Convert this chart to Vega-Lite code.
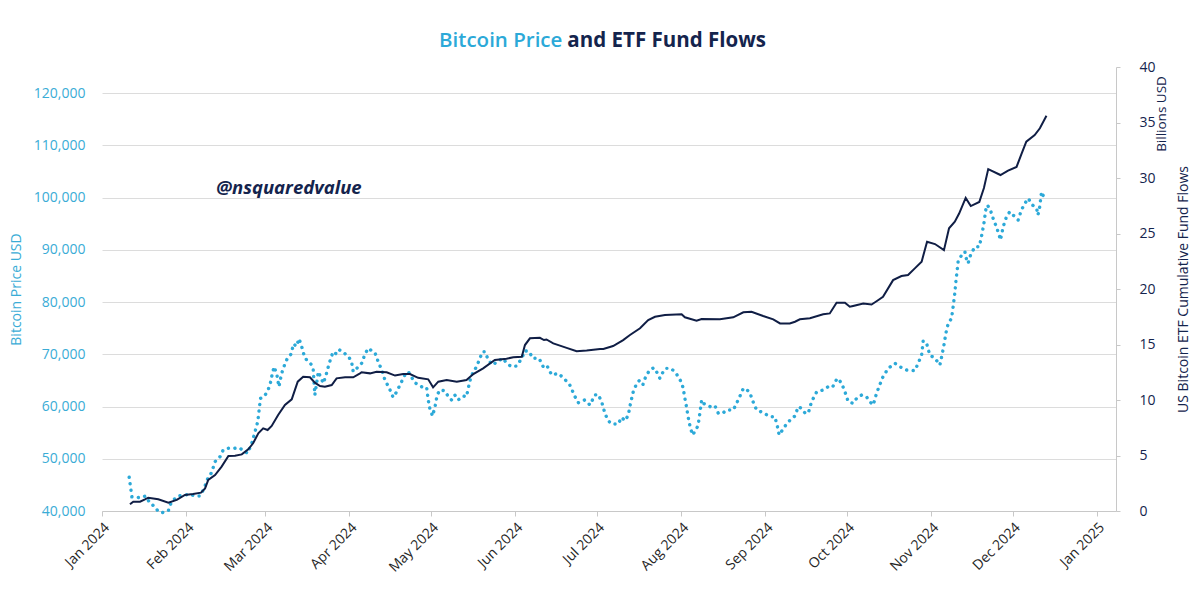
{
  "$schema": "https://vega.github.io/schema/vega-lite/v6.json",
  "width": 1014,
  "height": 444,
  "autosize": {"type": "none"},
  "padding": {"left": 102, "top": 67, "right": 84, "bottom": 104},
  "background": "white",
  "config": {"view": {"stroke": null}, "font": "Open Sans"},
  "datasets": {
    "price": [
      {"date": "2024-01-11T00:00", "price": 46450}, {"date": "2024-01-12T00:00", "price": 42740}, {"date": "2024-01-15T00:00", "price": 42550},
      {"date": "2024-01-17T00:00", "price": 42870}, {"date": "2024-01-18T17:00", "price": 41470}, {"date": "2024-01-20T12:00", "price": 40820},
      {"date": "2024-01-21T17:00", "price": 39870}, {"date": "2024-01-23T10:00", "price": 39700}, {"date": "2024-01-25T10:00", "price": 40060},
      {"date": "2024-01-26T00:00", "price": 41150}, {"date": "2024-01-27T05:00", "price": 42100}, {"date": "2024-01-29T00:00", "price": 42870},
      {"date": "2024-01-31T12:00", "price": 43060}, {"date": "2024-02-02T10:00", "price": 43190}, {"date": "2024-02-04T05:00", "price": 42870},
      {"date": "2024-02-06T00:00", "price": 42870}, {"date": "2024-02-07T14:00", "price": 44340}, {"date": "2024-02-08T22:00", "price": 46260},
      {"date": "2024-02-10T07:00", "price": 47330}, {"date": "2024-02-11T14:00", "price": 49440}, {"date": "2024-02-13T10:00", "price": 50400},
      {"date": "2024-02-14T14:00", "price": 51680}, {"date": "2024-02-16T12:00", "price": 52000}, {"date": "2024-02-18T17:00", "price": 52000},
      {"date": "2024-02-20T10:00", "price": 52120}, {"date": "2024-02-23T14:00", "price": 51040}, {"date": "2024-02-25T07:00", "price": 53270},
      {"date": "2024-02-26T07:00", "price": 55180}, {"date": "2024-02-27T07:00", "price": 57100}, {"date": "2024-02-28T07:00", "price": 61570},
      {"date": "2024-02-29T14:00", "price": 61880}, {"date": "2024-03-01T19:00", "price": 62830}, {"date": "2024-03-02T19:00", "price": 64120},
      {"date": "2024-03-03T10:00", "price": 65710}, {"date": "2024-03-04T07:00", "price": 67620}, {"date": "2024-03-05T07:00", "price": 66220},
      {"date": "2024-03-06T02:00", "price": 63790}, {"date": "2024-03-07T02:00", "price": 66350}, {"date": "2024-03-07T17:00", "price": 67310},
      {"date": "2024-03-08T14:00", "price": 68580}, {"date": "2024-03-09T12:00", "price": 69500}, {"date": "2024-03-10T12:00", "price": 70000},
      {"date": "2024-03-11T12:00", "price": 72000}, {"date": "2024-03-12T12:00", "price": 71500}, {"date": "2024-03-13T12:00", "price": 73000},
      {"date": "2024-03-14T12:00", "price": 71400}, {"date": "2024-03-15T12:00", "price": 69500}, {"date": "2024-03-16T07:00", "price": 68900},
      {"date": "2024-03-18T02:00", "price": 68000}, {"date": "2024-03-18T17:00", "price": 67000}, {"date": "2024-03-19T07:00", "price": 62200},
      {"date": "2024-03-20T14:00", "price": 66660}, {"date": "2024-03-22T10:00", "price": 64440}, {"date": "2024-03-23T10:00", "price": 66030},
      {"date": "2024-03-24T14:00", "price": 68270}, {"date": "2024-03-26T00:00", "price": 70500}, {"date": "2024-03-27T10:00", "price": 70000},
      {"date": "2024-03-28T12:00", "price": 70810}, {"date": "2024-03-31T14:00", "price": 69670}, {"date": "2024-04-01T19:00", "price": 68580},
      {"date": "2024-04-02T10:00", "price": 66660}, {"date": "2024-04-03T17:00", "price": 67310}, {"date": "2024-04-05T12:00", "price": 68270},
      {"date": "2024-04-06T17:00", "price": 69990}, {"date": "2024-04-07T22:00", "price": 71140}, {"date": "2024-04-09T05:00", "price": 70680},
      {"date": "2024-04-10T10:00", "price": 70300}, {"date": "2024-04-11T14:00", "price": 68580}, {"date": "2024-04-12T22:00", "price": 66990},
      {"date": "2024-04-14T02:00", "price": 65070}, {"date": "2024-04-15T17:00", "price": 63480}, {"date": "2024-04-17T02:00", "price": 61760},
      {"date": "2024-04-18T10:00", "price": 62830}, {"date": "2024-04-19T14:00", "price": 64120}, {"date": "2024-04-21T10:00", "price": 66030},
      {"date": "2024-04-22T17:00", "price": 66660}, {"date": "2024-04-23T22:00", "price": 65590}, {"date": "2024-04-25T02:00", "price": 64560},
      {"date": "2024-04-27T14:00", "price": 63790}, {"date": "2024-04-29T10:00", "price": 63680}, {"date": "2024-04-30T00:00", "price": 61250},
      {"date": "2024-04-30T14:00", "price": 59660}, {"date": "2024-05-01T14:00", "price": 58180}, {"date": "2024-05-02T12:00", "price": 59960},
      {"date": "2024-05-03T07:00", "price": 62200}, {"date": "2024-05-04T07:00", "price": 63160}, {"date": "2024-05-06T02:00", "price": 63030},
      {"date": "2024-05-07T10:00", "price": 61880}, {"date": "2024-05-08T14:00", "price": 61250}, {"date": "2024-05-09T19:00", "price": 62200},
      {"date": "2024-05-11T00:00", "price": 61250}, {"date": "2024-05-12T22:00", "price": 62010}, {"date": "2024-05-14T02:00", "price": 61880},
      {"date": "2024-05-14T17:00", "price": 63480}, {"date": "2024-05-15T14:00", "price": 65400}, {"date": "2024-05-16T14:00", "price": 66660},
      {"date": "2024-05-17T19:00", "price": 67620}, {"date": "2024-05-19T00:00", "price": 69230}, {"date": "2024-05-20T00:00", "price": 70490},
      {"date": "2024-05-20T22:00", "price": 70490}, {"date": "2024-05-22T02:00", "price": 68900}, {"date": "2024-05-23T17:00", "price": 67940},
      {"date": "2024-05-25T19:00", "price": 68770}, {"date": "2024-05-27T14:00", "price": 69230}, {"date": "2024-05-28T19:00", "price": 68270},
      {"date": "2024-05-30T17:00", "price": 67620}, {"date": "2024-06-01T12:00", "price": 67750}, {"date": "2024-06-03T10:00", "price": 69230},
      {"date": "2024-06-04T14:00", "price": 70680}, {"date": "2024-06-06T05:00", "price": 70490}, {"date": "2024-06-07T10:00", "price": 69230},
      {"date": "2024-06-09T19:00", "price": 69230}, {"date": "2024-06-11T07:00", "price": 67620}, {"date": "2024-06-12T14:00", "price": 67940},
      {"date": "2024-06-14T10:00", "price": 66030}, {"date": "2024-06-16T19:00", "price": 66350}, {"date": "2024-06-18T22:00", "price": 65400},
      {"date": "2024-06-21T02:00", "price": 64120}, {"date": "2024-06-23T00:00", "price": 61880}, {"date": "2024-06-24T05:00", "price": 60730},
      {"date": "2024-06-26T14:00", "price": 61250}, {"date": "2024-06-28T12:00", "price": 60290}, {"date": "2024-06-30T07:00", "price": 62200},
      {"date": "2024-07-01T12:00", "price": 62330}, {"date": "2024-07-02T19:00", "price": 60920}, {"date": "2024-07-04T00:00", "price": 58700},
      {"date": "2024-07-05T05:00", "price": 57280}, {"date": "2024-07-06T12:00", "price": 56650}, {"date": "2024-07-08T22:00", "price": 56650},
      {"date": "2024-07-10T02:00", "price": 57930}, {"date": "2024-07-11T10:00", "price": 57280}, {"date": "2024-07-12T14:00", "price": 58370},
      {"date": "2024-07-13T10:00", "price": 60610}, {"date": "2024-07-14T10:00", "price": 62830}, {"date": "2024-07-15T17:00", "price": 64440},
      {"date": "2024-07-16T14:00", "price": 64940}, {"date": "2024-07-17T22:00", "price": 64120}, {"date": "2024-07-19T02:00", "price": 65840},
      {"date": "2024-07-20T12:00", "price": 66990}, {"date": "2024-07-22T00:00", "price": 67430}, {"date": "2024-07-23T00:00", "price": 66660},
      {"date": "2024-07-24T05:00", "price": 65400}, {"date": "2024-07-25T10:00", "price": 66660}, {"date": "2024-07-26T10:00", "price": 67310},
      {"date": "2024-07-28T05:00", "price": 67310}, {"date": "2024-07-29T17:00", "price": 66660}, {"date": "2024-07-31T00:00", "price": 65710},
      {"date": "2024-08-01T05:00", "price": 64560}, {"date": "2024-08-01T19:00", "price": 63480}, {"date": "2024-08-02T10:00", "price": 61570},
      {"date": "2024-08-03T00:00", "price": 59960}, {"date": "2024-08-03T14:00", "price": 58050}, {"date": "2024-08-04T07:00", "price": 56270},
      {"date": "2024-08-05T05:00", "price": 54550}, {"date": "2024-08-06T12:00", "price": 55500}, {"date": "2024-08-07T07:00", "price": 56460},
      {"date": "2024-08-07T22:00", "price": 58700}, {"date": "2024-08-08T14:00", "price": 61250}, {"date": "2024-08-09T05:00", "price": 60610},
      {"date": "2024-08-10T10:00", "price": 60290}, {"date": "2024-08-12T05:00", "price": 59850}, {"date": "2024-08-13T12:00", "price": 60100},
      {"date": "2024-08-14T17:00", "price": 58700}, {"date": "2024-08-16T07:00", "price": 58700}, {"date": "2024-08-17T17:00", "price": 59330},
      {"date": "2024-08-20T05:00", "price": 59330}, {"date": "2024-08-21T10:00", "price": 60610}, {"date": "2024-08-22T14:00", "price": 61880},
      {"date": "2024-08-23T22:00", "price": 63480}, {"date": "2024-08-25T02:00", "price": 63290}, {"date": "2024-08-26T07:00", "price": 62640},
      {"date": "2024-08-27T12:00", "price": 60920}, {"date": "2024-08-28T19:00", "price": 59330}, {"date": "2024-08-31T05:00", "price": 58820},
      {"date": "2024-09-02T17:00", "price": 58050}, {"date": "2024-09-04T12:00", "price": 58050}, {"date": "2024-09-05T10:00", "price": 56270},
      {"date": "2024-09-06T02:00", "price": 54550}, {"date": "2024-09-07T07:00", "price": 55500}, {"date": "2024-09-08T19:00", "price": 56650},
      {"date": "2024-09-10T17:00", "price": 57740}, {"date": "2024-09-11T22:00", "price": 58180}, {"date": "2024-09-13T02:00", "price": 59960},
      {"date": "2024-09-14T07:00", "price": 59660}, {"date": "2024-09-15T12:00", "price": 58820}, {"date": "2024-09-16T19:00", "price": 58700},
      {"date": "2024-09-18T00:00", "price": 60920}, {"date": "2024-09-19T22:00", "price": 62830}, {"date": "2024-09-22T07:00", "price": 63160},
      {"date": "2024-09-24T02:00", "price": 63790}, {"date": "2024-09-25T17:00", "price": 63680}, {"date": "2024-09-27T10:00", "price": 65400},
      {"date": "2024-09-29T00:00", "price": 64560}, {"date": "2024-09-30T07:00", "price": 62830}, {"date": "2024-10-01T12:00", "price": 60920},
      {"date": "2024-10-03T07:00", "price": 60610}, {"date": "2024-10-04T14:00", "price": 61570}, {"date": "2024-10-06T10:00", "price": 62200},
      {"date": "2024-10-08T05:00", "price": 61880}, {"date": "2024-10-09T10:00", "price": 60920}, {"date": "2024-10-10T17:00", "price": 60290},
      {"date": "2024-10-11T22:00", "price": 62530}, {"date": "2024-10-13T02:00", "price": 64120}, {"date": "2024-10-14T07:00", "price": 65710},
      {"date": "2024-10-16T05:00", "price": 67310}, {"date": "2024-10-18T17:00", "price": 68270}, {"date": "2024-10-20T12:00", "price": 67620},
      {"date": "2024-10-23T00:00", "price": 66990}, {"date": "2024-10-26T00:00", "price": 66860}, {"date": "2024-10-27T05:00", "price": 68270},
      {"date": "2024-10-28T12:00", "price": 69860}, {"date": "2024-10-29T02:00", "price": 72600}, {"date": "2024-10-30T12:00", "price": 71770},
      {"date": "2024-10-31T12:00", "price": 69860}, {"date": "2024-11-02T10:00", "price": 69230}, {"date": "2024-11-04T05:00", "price": 67940},
      {"date": "2024-11-05T00:00", "price": 69860}, {"date": "2024-11-05T17:00", "price": 71770}, {"date": "2024-11-06T10:00", "price": 74010},
      {"date": "2024-11-07T07:00", "price": 75920}, {"date": "2024-11-08T12:00", "price": 76880}, {"date": "2024-11-09T02:00", "price": 79100},
      {"date": "2024-11-09T17:00", "price": 81670}, {"date": "2024-11-10T02:00", "price": 83890}, {"date": "2024-11-10T14:00", "price": 86130},
      {"date": "2024-11-10T22:00", "price": 87720}, {"date": "2024-11-12T05:00", "price": 89000}, {"date": "2024-11-13T10:00", "price": 89630},
      {"date": "2024-11-14T00:00", "price": 88180}, {"date": "2024-11-14T14:00", "price": 87410}, {"date": "2024-11-15T12:00", "price": 89000},
      {"date": "2024-11-17T02:00", "price": 90590}, {"date": "2024-11-18T17:00", "price": 90590}, {"date": "2024-11-19T12:00", "price": 92500},
      {"date": "2024-11-20T10:00", "price": 95070}, {"date": "2024-11-21T02:00", "price": 97620}, {"date": "2024-11-21T17:00", "price": 98570},
      {"date": "2024-11-22T19:00", "price": 97620}, {"date": "2024-11-23T19:00", "price": 96020}, {"date": "2024-11-25T00:00", "price": 94420},
      {"date": "2024-11-26T00:00", "price": 92830}, {"date": "2024-11-26T12:00", "price": 91870}, {"date": "2024-11-27T12:00", "price": 94420},
      {"date": "2024-11-28T17:00", "price": 96330}, {"date": "2024-11-29T22:00", "price": 97290}, {"date": "2024-12-01T19:00", "price": 96330},
      {"date": "2024-12-03T00:00", "price": 95700}, {"date": "2024-12-04T05:00", "price": 97620}, {"date": "2024-12-05T12:00", "price": 98900},
      {"date": "2024-12-06T17:00", "price": 99850}, {"date": "2024-12-08T07:00", "price": 98570}, {"date": "2024-12-09T19:00", "price": 97940},
      {"date": "2024-12-10T07:00", "price": 96650}, {"date": "2024-12-11T00:00", "price": 98380}, {"date": "2024-12-11T14:00", "price": 101110},
      {"date": "2024-12-12T10:00", "price": 100160}
    ],
    "etf": [
      {"date": "2024-01-11T07:00", "flows": 0.6}, {"date": "2024-01-12T12:00", "flows": 0.84}, {"date": "2024-01-15T00:00", "flows": 0.84},
      {"date": "2024-01-16T19:00", "flows": 1.05}, {"date": "2024-01-18T00:00", "flows": 1.2}, {"date": "2024-01-21T17:00", "flows": 1.05},
      {"date": "2024-01-25T10:00", "flows": 0.75}, {"date": "2024-01-28T12:00", "flows": 1.0}, {"date": "2024-01-31T12:00", "flows": 1.44},
      {"date": "2024-02-03T12:00", "flows": 1.53}, {"date": "2024-02-06T10:00", "flows": 1.65}, {"date": "2024-02-07T22:00", "flows": 2.04},
      {"date": "2024-02-09T02:00", "flows": 2.8}, {"date": "2024-02-11T14:00", "flows": 3.24}, {"date": "2024-02-14T00:00", "flows": 4.0},
      {"date": "2024-02-16T12:00", "flows": 4.95}, {"date": "2024-02-18T22:00", "flows": 4.98}, {"date": "2024-02-21T10:00", "flows": 5.1},
      {"date": "2024-02-23T19:00", "flows": 5.56}, {"date": "2024-02-25T14:00", "flows": 6.1}, {"date": "2024-02-27T12:00", "flows": 7.0},
      {"date": "2024-02-29T07:00", "flows": 7.45}, {"date": "2024-03-01T22:00", "flows": 7.3}, {"date": "2024-03-03T10:00", "flows": 7.66},
      {"date": "2024-03-05T19:00", "flows": 8.65}, {"date": "2024-03-08T07:00", "flows": 9.55}, {"date": "2024-03-10T19:00", "flows": 10.06},
      {"date": "2024-03-13T00:00", "flows": 11.65}, {"date": "2024-03-15T00:00", "flows": 12.1}, {"date": "2024-03-17T12:00", "flows": 12.05},
      {"date": "2024-03-19T07:00", "flows": 11.56}, {"date": "2024-03-21T05:00", "flows": 11.26}, {"date": "2024-03-23T00:00", "flows": 11.2},
      {"date": "2024-03-25T12:00", "flows": 11.35}, {"date": "2024-03-27T07:00", "flows": 11.95}, {"date": "2024-03-30T10:00", "flows": 12.05},
      {"date": "2024-04-02T10:00", "flows": 12.05}, {"date": "2024-04-04T22:00", "flows": 12.4}, {"date": "2024-04-05T12:00", "flows": 12.5},
      {"date": "2024-04-08T14:00", "flows": 12.4}, {"date": "2024-04-11T00:00", "flows": 12.55}, {"date": "2024-04-14T17:00", "flows": 12.5},
      {"date": "2024-04-17T19:00", "flows": 12.2}, {"date": "2024-04-20T19:00", "flows": 12.34}, {"date": "2024-04-23T07:00", "flows": 12.34},
      {"date": "2024-04-26T07:00", "flows": 12.0}, {"date": "2024-04-30T00:00", "flows": 11.86}, {"date": "2024-05-01T19:00", "flows": 11.14},
      {"date": "2024-05-03T17:00", "flows": 11.65}, {"date": "2024-05-06T19:00", "flows": 11.8}, {"date": "2024-05-10T12:00", "flows": 11.65},
      {"date": "2024-05-14T02:00", "flows": 11.8}, {"date": "2024-05-16T14:00", "flows": 12.34}, {"date": "2024-05-20T05:00", "flows": 12.85},
      {"date": "2024-05-24T12:00", "flows": 13.6}, {"date": "2024-05-28T19:00", "flows": 13.72}, {"date": "2024-05-31T07:00", "flows": 13.85},
      {"date": "2024-06-03T10:00", "flows": 13.9}, {"date": "2024-06-04T14:00", "flows": 14.95}, {"date": "2024-06-06T10:00", "flows": 15.56},
      {"date": "2024-06-10T02:00", "flows": 15.6}, {"date": "2024-06-11T14:00", "flows": 15.4}, {"date": "2024-06-12T12:00", "flows": 15.45},
      {"date": "2024-06-15T00:00", "flows": 15.1}, {"date": "2024-06-19T22:00", "flows": 14.7}, {"date": "2024-06-23T14:00", "flows": 14.4},
      {"date": "2024-06-27T07:00", "flows": 14.45}, {"date": "2024-07-02T05:00", "flows": 14.6}, {"date": "2024-07-03T10:00", "flows": 14.6},
      {"date": "2024-07-07T00:00", "flows": 14.86}, {"date": "2024-07-10T17:00", "flows": 15.4}, {"date": "2024-07-13T05:00", "flows": 15.86},
      {"date": "2024-07-16T22:00", "flows": 16.46}, {"date": "2024-07-19T22:00", "flows": 17.2}, {"date": "2024-07-22T10:00", "flows": 17.5},
      {"date": "2024-07-26T02:00", "flows": 17.66}, {"date": "2024-08-01T05:00", "flows": 17.72}, {"date": "2024-08-02T10:00", "flows": 17.45},
      {"date": "2024-08-06T17:00", "flows": 17.14}, {"date": "2024-08-08T14:00", "flows": 17.3}, {"date": "2024-08-15T07:00", "flows": 17.27},
      {"date": "2024-08-20T05:00", "flows": 17.45}, {"date": "2024-08-23T22:00", "flows": 17.9}, {"date": "2024-08-26T22:00", "flows": 17.95},
      {"date": "2024-08-31T05:00", "flows": 17.57}, {"date": "2024-09-03T22:00", "flows": 17.27}, {"date": "2024-09-06T10:00", "flows": 16.9},
      {"date": "2024-09-10T00:00", "flows": 16.9}, {"date": "2024-09-11T22:00", "flows": 17.05}, {"date": "2024-09-13T17:00", "flows": 17.27},
      {"date": "2024-09-17T10:00", "flows": 17.36}, {"date": "2024-09-22T07:00", "flows": 17.72}, {"date": "2024-09-24T17:00", "flows": 17.8},
      {"date": "2024-09-27T05:00", "flows": 18.77}, {"date": "2024-09-30T07:00", "flows": 18.77}, {"date": "2024-10-02T02:00", "flows": 18.4},
      {"date": "2024-10-03T07:00", "flows": 18.47}, {"date": "2024-10-07T00:00", "flows": 18.7}, {"date": "2024-10-10T02:00", "flows": 18.6},
      {"date": "2024-10-11T22:00", "flows": 18.9}, {"date": "2024-10-14T07:00", "flows": 19.3}, {"date": "2024-10-18T00:00", "flows": 20.8},
      {"date": "2024-10-21T02:00", "flows": 21.17}, {"date": "2024-10-23T12:00", "flows": 21.26}, {"date": "2024-10-26T00:00", "flows": 21.86},
      {"date": "2024-10-28T12:00", "flows": 22.46}, {"date": "2024-10-30T12:00", "flows": 24.26}, {"date": "2024-11-02T10:00", "flows": 24.05},
      {"date": "2024-11-05T17:00", "flows": 23.5}, {"date": "2024-11-07T14:00", "flows": 25.47}, {"date": "2024-11-09T17:00", "flows": 26.06},
      {"date": "2024-11-11T07:00", "flows": 26.8}, {"date": "2024-11-13T17:00", "flows": 28.2}, {"date": "2024-11-15T14:00", "flows": 27.47},
      {"date": "2024-11-18T17:00", "flows": 27.84}, {"date": "2024-11-20T10:00", "flows": 29.1}, {"date": "2024-11-22T00:00", "flows": 30.8},
      {"date": "2024-11-26T12:00", "flows": 30.27}, {"date": "2024-11-29T07:00", "flows": 30.66}, {"date": "2024-12-02T10:00", "flows": 31.0},
      {"date": "2024-12-04T05:00", "flows": 32.16}, {"date": "2024-12-06T00:00", "flows": 33.27}, {"date": "2024-12-09T02:00", "flows": 33.87},
      {"date": "2024-12-11T00:00", "flows": 34.48}, {"date": "2024-12-13T10:00", "flows": 35.6}
    ]
  },
  "layer": [
    {
      "layer": [
        {
          "data": {"name": "price"},
          "mark": {"type": "line", "color": "#2CA9D8", "strokeWidth": 3.4, "strokeDash": [0.1, 6.4], "strokeCap": "round", "interpolate": "linear"},
          "encoding": {
            "x": {
              "field": "date", "type": "temporal",
              "scale": {"domain": [{"year": 2024, "month": 1, "date": 1}, {"year": 2025, "month": 1, "date": 8}]},
              "axis": {
                "title": null, "format": "%b %Y", "tickCount": {"interval": "month", "step": 1},
                "labelAngle": -45, "labelFontSize": 14, "labelColor": "#262626", "labelFont": "Open Sans",
                "domainColor": "#C8C8C8", "tickColor": "#C8C8C8", "tickSize": 5, "grid": false, "labelPadding": 4, "labelFlush": false, "labelOverlap": false
              }
            },
            "y": {
              "field": "price", "type": "quantitative",
              "scale": {"domain": [40000, 125000], "nice": false, "zero": false},
              "axis": {
                "title": "Bitcoin Price USD", "values": [40000, 50000, 60000, 70000, 80000, 90000, 100000, 110000, 120000],
                "format": ",d", "labelFontSize": 14, "labelColor": "#3AACD6", "labelPadding": 17,
                "domain": false, "ticks": false, "grid": true, "gridColor": "#DCDCDC", "gridWidth": 1,
                "titleColor": "#3AACD6", "titleFontSize": 14, "titleFontWeight": "normal", "titlePadding": 10
              }
            }
          }
        },
        {
          "data": {"values": [{}]},
          "mark": {"type": "text", "text": "@nsquaredvalue", "align": "left", "baseline": "middle", "font": "Open Sans", "fontSize": 18.5, "fontWeight": "bold", "fontStyle": "italic", "color": "#14244D"},
          "encoding": {
            "x": {"datum": {"year": 2024, "month": 2, "date": 12}, "type": "temporal"},
            "y": {"datum": 101800, "type": "quantitative"}
          }
        },
        {
          "data": {"values": [{}]},
          "mark": {"type": "text", "text": "Bitcoin Price", "align": "right", "baseline": "middle", "dx": -2, "font": "Open Sans", "fontSize": 20.5, "fontWeight": 600, "color": "#2CA9D8"},
          "encoding": {
            "x": {"datum": {"year": 2024, "month": 6, "date": 19, "hours": 2}, "type": "temporal"},
            "y": {"datum": 130000, "type": "quantitative"}
          }
        },
        {
          "data": {"values": [{}]},
          "mark": {"type": "text", "text": "and ETF Fund Flows", "align": "left", "baseline": "middle", "dx": 3, "font": "Open Sans", "fontSize": 20.5, "fontWeight": "bold", "color": "#14244D"},
          "encoding": {
            "x": {"datum": {"year": 2024, "month": 6, "date": 19, "hours": 2}, "type": "temporal"},
            "y": {"datum": 130000, "type": "quantitative"}
          }
        },
        {
          "data": {"values": [{}]},
          "mark": {"type": "text", "text": "Billions USD", "align": "center", "baseline": "middle", "angle": 270, "font": "Open Sans", "fontSize": 13.5, "color": "#14244D"},
          "encoding": {
            "x": {"datum": {"year": 2025, "month": 1, "date": 25, "hours": 0}, "type": "temporal"},
            "y": {"datum": 116000, "type": "quantitative"}
          }
        }
      ]
    },
    {
      "data": {"name": "etf"},
      "mark": {"type": "line", "color": "#101E45", "strokeWidth": 2, "interpolate": "linear"},
      "encoding": {
        "x": {"field": "date", "type": "temporal"},
        "y": {
          "field": "flows", "type": "quantitative",
          "scale": {"domain": [0, 40], "nice": false},
          "axis": {
            "orient": "right", "title": "US Bitcoin ETF Cumulative Fund Flows", "values": [0, 5, 10, 15, 20, 25, 30, 35, 40],
            "labelFontSize": 14, "labelColor": "#14244D", "labelPadding": 19,
            "domain": true, "domainColor": "#C8C8C8", "ticks": true, "tickColor": "#C8C8C8", "tickSize": 4,
            "grid": false, "titleColor": "#14244D", "titleFontSize": 14, "titleFontWeight": "normal", "titleAngle": 270, "titlePadding": 35
          }
        }
      }
    }
  ],
  "resolve": {"scale": {"y": "independent"}}
}
